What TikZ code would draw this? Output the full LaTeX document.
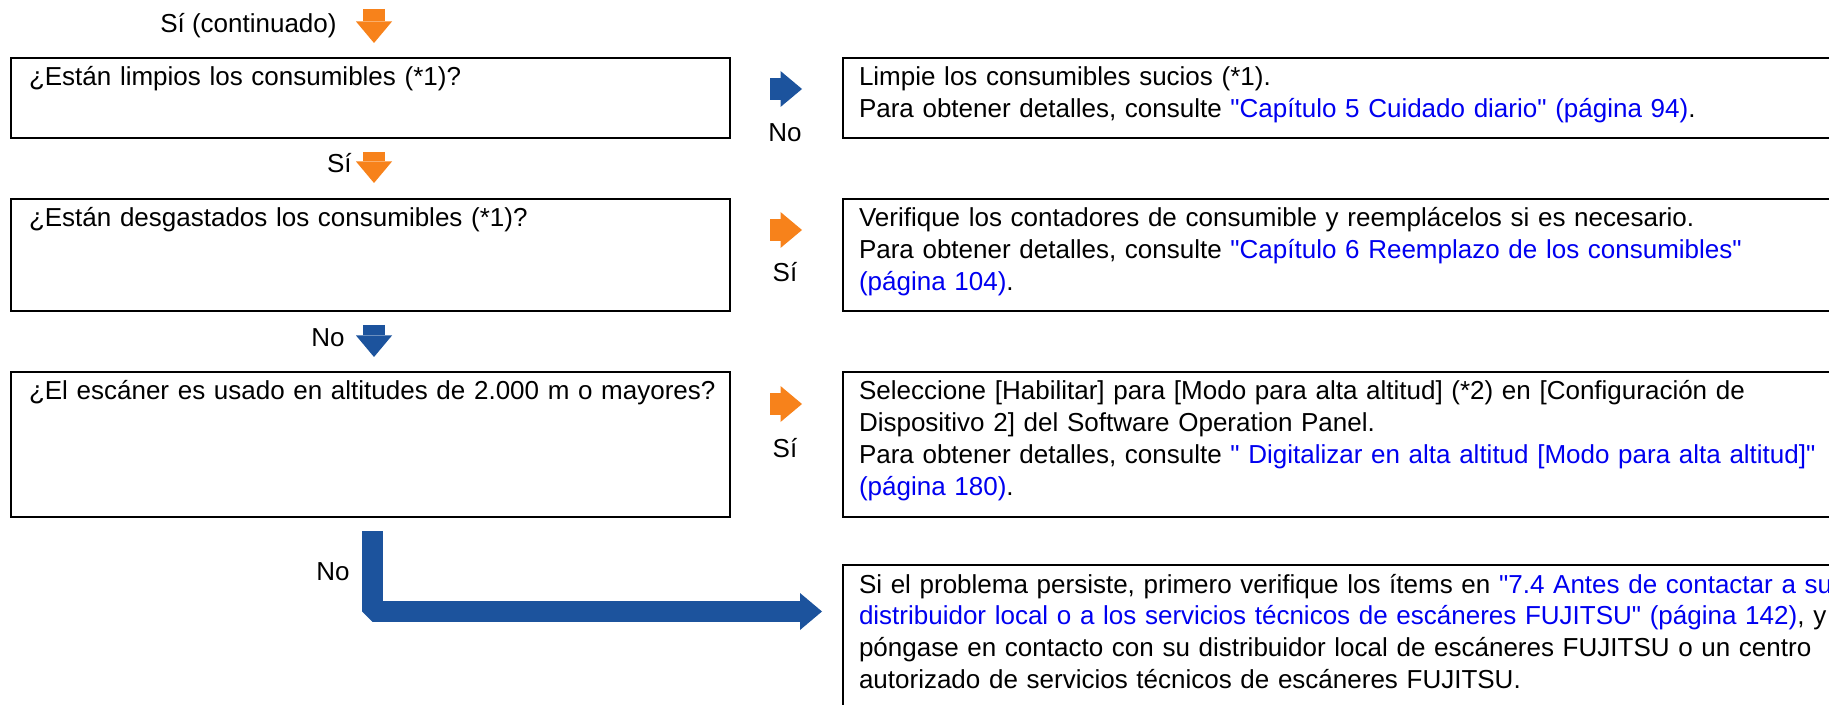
\documentclass[tikz,border=0pt]{standalone}
\usepackage{fontspec}
\setmainfont[Ligatures=TeXOff]{Liberation Sans}
\usepackage{xcolor}
\usetikzlibrary{positioning,arrows.meta,calc}
\definecolor{sorange}{RGB}{247,130,27}
\definecolor{sblue}{RGB}{28,83,157}
\definecolor{lnk}{RGB}{0,0,240}
\newcommand{\lk}[1]{\textcolor{lnk}{#1}}

\begin{document}
\begin{tikzpicture}[x=0.5pt, y=-0.5pt, font=\fontsize{13pt}{15.85pt}\selectfont,
  qbox/.style={draw, line width=1pt, anchor=north west, inner xsep=9pt, inner ysep=0pt,
    text width=341.5pt, align=left, text height=14pt},
  abox/.style={draw, line width=1pt, anchor=north west, inner xsep=8pt, inner ysep=0pt,
    text width=600pt, align=left, text height=14pt},
  barr/.style={line width=11pt, draw=#1, -{Triangle[length=10.75pt, width=18pt, line width=0pt]}},
  lbl/.style={anchor=base, inner sep=0pt}]
\useasboundingbox (0,0) rectangle (1829,705);
\clip (0,0) rectangle (1829,705);
\node[qbox, text depth=26pt] (q1) at (10,57) {¿Están limpios los consumibles (*1)?};
\node[qbox, text depth=42pt] (q2) at (10,198) {¿Están desgastados los consumibles (*1)?};
\node[qbox, text depth=58.5pt] (q3) at (10,371) {\mbox{¿El escáner es usado en altitudes de 2.000 m o mayores?}};
\node[abox, text depth=26pt] (a1) at (842,57) {Limpie los consumibles sucios (*1).\\
  Para obtener detalles, consulte \lk{"Capítulo 5 Cuidado diario" (página 94)}.};
\node[abox, text depth=42pt] (a2) at (842,198) {Verifique los contadores de consumible y reemplácelos si es necesario.\\
  Para obtener detalles, consulte \lk{"Capítulo 6 Reemplazo de los consumibles"}\\
  \lk{(página 104)}.};
\node[abox, text depth=58.5pt] (a3) at (842,371) {Seleccione [Habilitar] para [Modo para alta altitud] (*2) en [Configuración de\\
  Dispositivo 2] del Software Operation Panel.\\
  Para obtener detalles, consulte \lk{" Digitalizar en alta altitud [Modo para alta altitud]"}\\
  \lk{(página 180)}.};
\node[abox, text depth=100pt] (a4) at (842,564) {Si el problema persiste, primero verifique los ítems en \lk{"7.4 Antes de contactar a su}\\
  \lk{distribuidor local o a los servicios técnicos de escáneres FUJITSU" (página 142)}, y\\
  póngase en contacto con su distribuidor local de escáneres FUJITSU o un centro\\
  autorizado de servicios técnicos de escáneres FUJITSU.};
\coordinate (go) at (374,9);
\draw[barr=sorange, shorten >=7pt] (go) -- (go |- q1.north);
\node[lbl, anchor=base east] at (337,33) {Sí (continuado)};
\draw[barr=sorange, shorten <=6.5pt, shorten >=7.5pt] (go |- q1.south) -- (go |- q2.north);
\node[lbl, anchor=base east] at (352,173) {Sí};
\draw[barr=sblue, shorten <=6.5pt, shorten >=7pt] (go |- q2.south) -- (go |- q3.north);
\node[lbl, anchor=base east] at (345,347) {No};
\draw[barr=sblue, shorten <=19.5pt, shorten >=20pt] ($(q1.north east)+(0,32)$) -- ($(a1.north west)+(0,32)$);
\node[lbl] at (785,142) {No};
\draw[barr=sorange, shorten <=19.5pt, shorten >=20pt] ($(q2.north east)+(0,32)$) -- ($(a2.north west)+(0,32)$);
\node[lbl] at (785,282) {Sí};
\draw[barr=sorange, shorten <=19.5pt, shorten >=20pt] ($(q3.north east)+(0,33)$) -- ($(a3.north west)+(0,33)$);
\node[lbl] at (785,457) {Sí};
\draw[draw=sblue, line width=10.5pt, line join=bevel, shorten >=10pt,
  -{Triangle[length=11pt, width=18.5pt, line width=0pt]}] ($(q3.south west)+(362.5,13)$) |- ($(a4.north west)+(0,47.5)$);
\node[lbl, anchor=base east] at (350,580) {No};
\end{tikzpicture}
\end{document}
